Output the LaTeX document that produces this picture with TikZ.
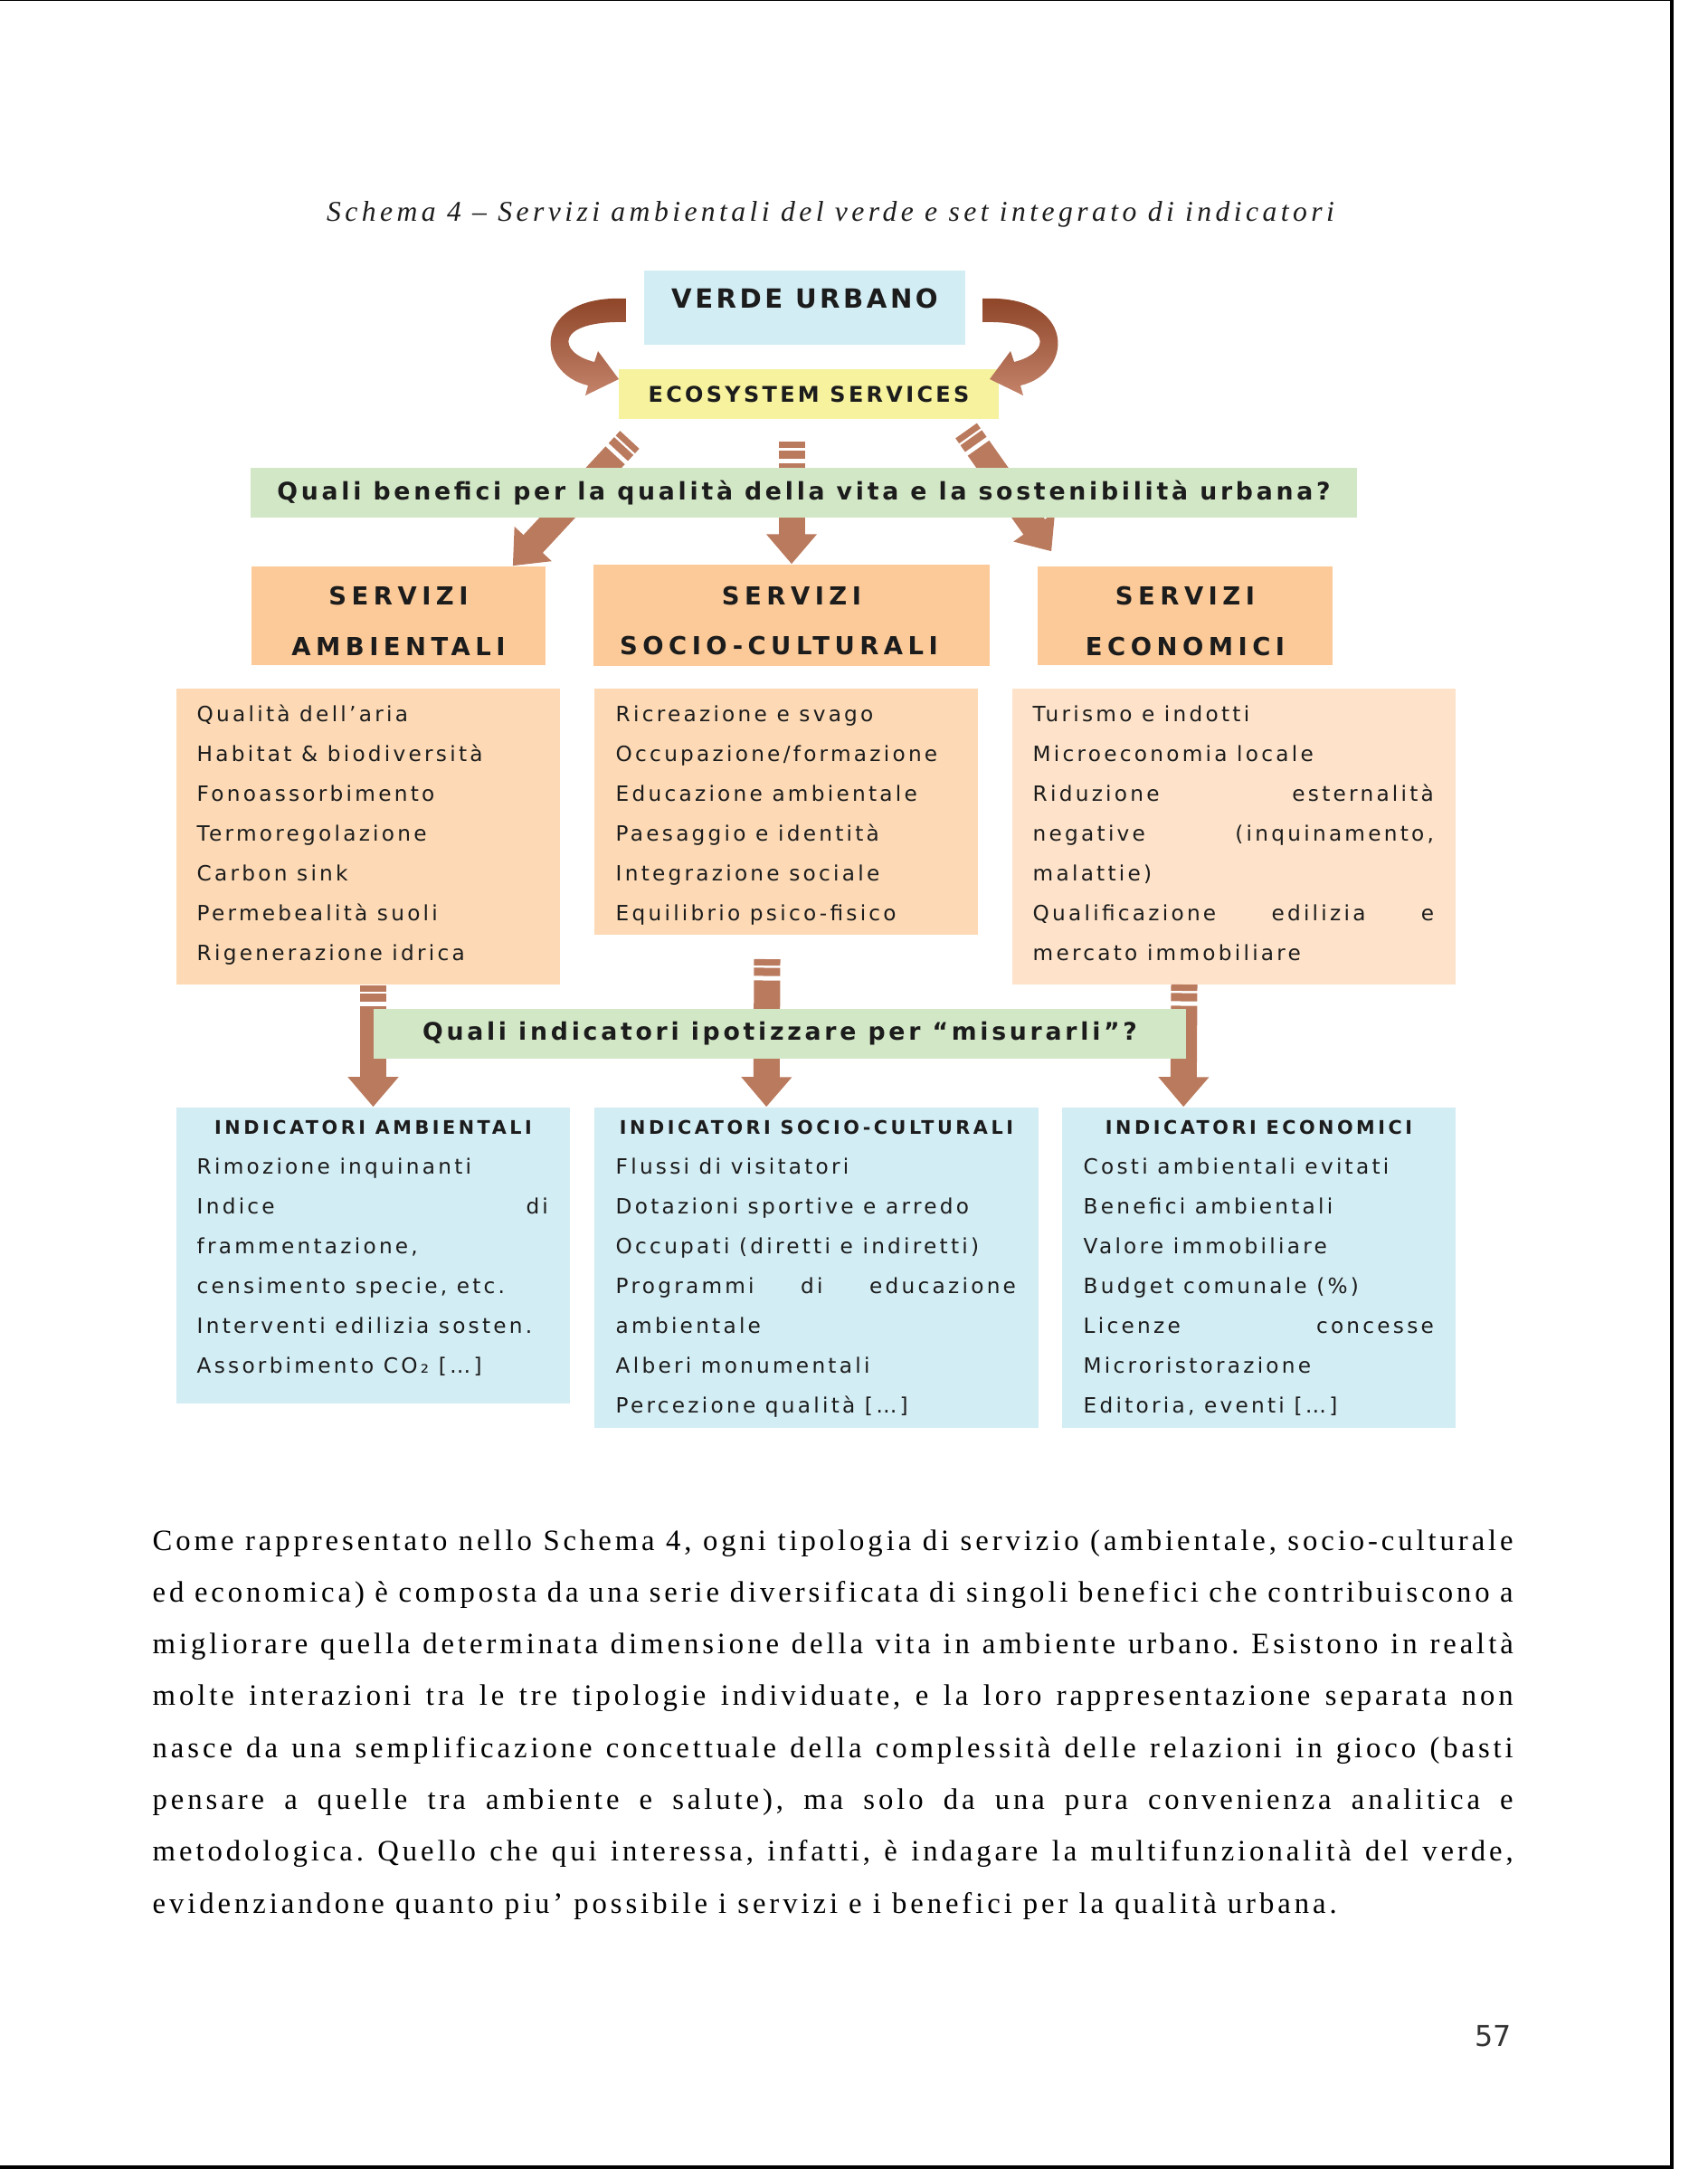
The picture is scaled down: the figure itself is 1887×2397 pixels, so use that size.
\documentclass[tikz,border=0pt]{standalone}
\usepackage{fontspec}
\setmainfont{Liberation Serif}
\newfontfamily\capfont[LetterSpace=14]{Liberation Serif}
\newfontfamily\bodyfont[LetterSpace=12]{Liberation Serif}
\newfontfamily\vufont[LetterSpace=12]{DejaVu Sans}
\newfontfamily\esfont[LetterSpace=14]{DejaVu Sans}
\newfontfamily\headfont[LetterSpace=20]{DejaVu Sans}
\newfontfamily\bandfont[LetterSpace=14]{DejaVu Sans}
\newfontfamily\listfont[LetterSpace=14]{DejaVu Sans}
\newfontfamily\indfont[LetterSpace=17]{DejaVu Sans}
\newfontfamily\numfont{DejaVu Sans}
\usetikzlibrary{arrows.meta,calc}
\definecolor{ink}{HTML}{1C1C1C}
\definecolor{skyblue}{HTML}{D3EDF4}
\definecolor{esyellow}{HTML}{F6F29E}
\definecolor{bandgreen}{HTML}{D2E7C6}
\definecolor{headorange}{HTML}{FCCA98}
\definecolor{listpeach}{HTML}{FDDAB5}
\definecolor{lightpeach}{HTML}{FEE3CA}
\definecolor{arrowbrown}{HTML}{BA7A5E}
\definecolor{benddark}{HTML}{8C4326}
\definecolor{bendlight}{HTML}{C4836A}
\newcommand{\jl}[2]{\makebox[#1][s]{#2}}
\frenchspacing
\tikzset{
  boxbase/.style={rectangle,inner sep=0pt,text=ink},
  vubox/.style={boxbase,fill=skyblue,minimum width=3.55cm,minimum height=8.2mm,text depth=2mm,font=\fontsize{8.3}{10}\vufont\bfseries},
  esbox/.style={boxbase,fill=esyellow,minimum width=4.2cm,minimum height=5.5mm,font=\fontsize{6.8}{8}\esfont\bfseries},
  band/.style={boxbase,fill=bandgreen,minimum height=5.5mm,font=\fontsize{7.6}{9}\bandfont\bfseries},
  headbox/.style={boxbase,fill=headorange,minimum height=1.09cm,align=center,text height=25pt,text depth=0pt,font=\fontsize{7.8}{15.9}\headfont\bfseries},
  listbox/.style={boxbase,fill=listpeach,minimum width=4.24cm},
  indbox/.style={boxbase,fill=skyblue,minimum height=3.54cm},
  item/.style={anchor=base west,inner sep=0pt,text=ink,font=\fontsize{6.6}{8}\listfont},
  indtitle/.style={anchor=base,inner sep=0pt,text=ink,font=\fontsize{5.9}{7}\indfont\bfseries},
  bodyline/.style={anchor=base west,inner sep=0pt,text=black,font=\fontsize{9.3}{11}\bodyfont},
  captxt/.style={anchor=base,inner sep=0pt,text=ink,font=\fontsize{9}{11}\capfont\itshape},
  pagenum/.style={anchor=base east,inner sep=0pt,text=ink!90,font=\fontsize{9}{11}\numfont},
  bigarrow/.style={draw=arrowbrown,line width=2.9mm,-{Triangle[length=3.3mm,width=5.4mm]}},
  stripes/.style={dash pattern=on 0.7mm off 0.25mm on 0.9mm off 0.5mm on 40cm off 1mm},
  bentfill/.style={top color=benddark,bottom color=bendlight},
}

\begin{document}
\begin{tikzpicture}[x=0.01cm,y=-0.01cm]
  \useasboundingbox (0,0) rectangle (1887,2397);
  % page frame
  \fill[black] (0,0) rectangle (1846,1.5);
  \fill[black] (1846,0) rectangle (1850,2397);
  \fill[black] (0,2393) rectangle (1850,2397);
  \node[captxt] (cap) at (918,245) {Schema 4 – Servizi ambientali del verde e set integrato di indicatori};
  % boxes
  \node[vubox] (vu) at (889.5,340) {VERDE URBANO};
  \node[esbox] (es) at (894,435.5) {ECOSYSTEM SERVICES};
  \node[headbox,minimum width=3.25cm] (sa) at (440.5,680.5) {SERVIZI\\AMBIENTALI};
  \node[headbox,minimum width=4.38cm,minimum height=1.12cm] (ssc) at (875,680) {SERVIZI\\\hspace*{-2.8mm}SOCIO-CULTURALI};
  \node[headbox,minimum width=3.26cm] (se) at (1310,680.5) {SERVIZI\\ECONOMICI};
  \node[listbox,minimum height=3.27cm] (la) at (407,924.5) {};
  \node[listbox,minimum height=2.72cm] (ls) at (869,897) {};
  \node[listbox,fill=lightpeach,minimum width=4.9cm,minimum height=3.27cm] (le) at (1364,924.5) {};
  \node[indbox,minimum width=4.35cm,minimum height=3.27cm] (ia) at (412.5,1387.5) {};
  \node[indbox,minimum width=4.91cm] (is) at (902.5,1401) {};
  \node[indbox,minimum width=4.35cm] (ie) at (1391.5,1401) {};
  % bent arrows
  \shade[bentfill] (692,330) .. controls (588,325) and (590,412) .. (650,426) -- (647,437) -- (684,419)
    -- (661,388) -- (657,400) .. controls (616,390) and (612,354) .. (692,356) -- cycle;
  \shade[bentfill] (1086,330) .. controls (1190,325) and (1188,412) .. (1128,426) -- (1131,437) -- (1094,419)
    -- (1117,388) -- (1121,400) .. controls (1162,390) and (1166,354) .. (1086,356) -- cycle;
  % block arrows
  \coordinate (t1) at (696,486);
  \coordinate (t2) at (875,488);
  \coordinate (t3) at (1068,476);
  \coordinate (t5) at (848,1060);
  \coordinate (t6) at (1309,1088);
  \draw[bigarrow,stripes] (t1) -- ($(sa.north east)+(-37,0)$);
  \draw[bigarrow,stripes] (t2) -- (ssc.north);
  \draw[bigarrow,stripes] (t3) -- ($(se.north west)+(16,-16)$);
  \draw[bigarrow,stripes] (la.south -| ia.north) -- (ia.north);
  \draw[bigarrow,stripes] (t5) -- ($(is.north west)+(191,0)$);
  \draw[bigarrow,stripes] (t6) -- ($(ie.north west)+(135,0)$);
  % question bands
  \node[band,minimum width=12.23cm] (q1) at (888.5,544.5) {Quali benefici per la qualità della vita e la sostenibilità urbana?};
  \node[band,minimum width=8.98cm] (q2) at (862,1142.5) {Quali indicatori ipotizzare per “misurarli”?};
  % service lists
  \foreach \txt [count=\i from 0] in {Qualità dell’aria,Habitat \& biodiversità,Fonoassorbimento,Termoregolazione,Carbon sink,Permebealità suoli,Rigenerazione idrica}
    \node[item] (la-\i) at (217,{797+44*\i}) {\txt};
  \foreach \txt [count=\i from 0] in {Ricreazione e svago,Occupazione/formazione,Educazione ambientale,Paesaggio e identità,Integrazione sociale,Equilibrio psico-fisico}
    \node[item] (ls-\i) at (680,{797+44*\i}) {\txt};
  \foreach \txt [count=\i from 0] in {Turismo e indotti,Microeconomia locale,\jl{4.43cm}{Riduzione esternalità},\jl{4.43cm}{negative (inquinamento,},malattie),\jl{4.43cm}{Qualificazione edilizia e},mercato immobiliare}
    \node[item] (le-\i) at (1141,{797+44*\i}) {\txt};
  % indicators
  \node[indtitle] (ia-t) at (412.5,1253) {INDICATORI AMBIENTALI};
  \node[indtitle] (is-t) at (902.5,1253) {INDICATORI SOCIO-CULTURALI};
  \node[indtitle] (ie-t) at (1391.5,1253) {INDICATORI ECONOMICI};
  \foreach \txt [count=\i from 0] in {Rimozione inquinanti,\jl{3.88cm}{Indice di},{frammentazione,},{censimento specie, etc.},Interventi edilizia sosten.,Assorbimento CO₂ […]}
    \node[item] (ia-\i) at (217,{1297+44*\i}) {\txt};
  \foreach \txt [count=\i from 0] in {Flussi di visitatori,Dotazioni sportive e arredo,Occupati (diretti e indiretti),\jl{4.42cm}{Programmi di educazione},ambientale,Alberi monumentali,Percezione qualità […]}
    \node[item] (is-\i) at (680,{1297+44*\i}) {\txt};
  \foreach \txt [count=\i from 0] in {Costi ambientali evitati,Benefici ambientali,Valore immobiliare,Budget comunale (\%),\jl{3.87cm}{Licenze concesse},Microristorazione,{Editoria, eventi […]}}
    \node[item] (ie-\i) at (1197,{1297+44*\i}) {\txt};
  % body text
  \foreach \row [count=\i from 0] in {
    {Come rappresentato nello Schema 4, ogni tipologia di servizio (ambientale, socio-culturale},
    {ed economica) è composta da una serie diversificata di singoli benefici che contribuiscono a},
    {migliorare quella determinata dimensione della vita in ambiente urbano. Esistono in realtà},
    {molte interazioni tra le tre tipologie individuate, e la loro rappresentazione separata non},
    {nasce da una semplificazione concettuale della complessità delle relazioni in gioco (basti},
    {pensare a quelle tra ambiente e salute), ma solo da una pura convenienza analitica e},
    {metodologica. Quello che qui interessa, infatti, è indagare la multifunzionalità del verde,}}
    \node[bodyline] (b-\i) at (168,{1713+57.3*\i}) {\jl{15.03cm}{\row}};
  \node[bodyline] (b-7) at (168,2114) {evidenziandone quanto piu’ possibile i servizi e i benefici per la qualità urbana.};
  \node[pagenum] (pg) at (1671,2261) {57};
\end{tikzpicture}
\end{document}
